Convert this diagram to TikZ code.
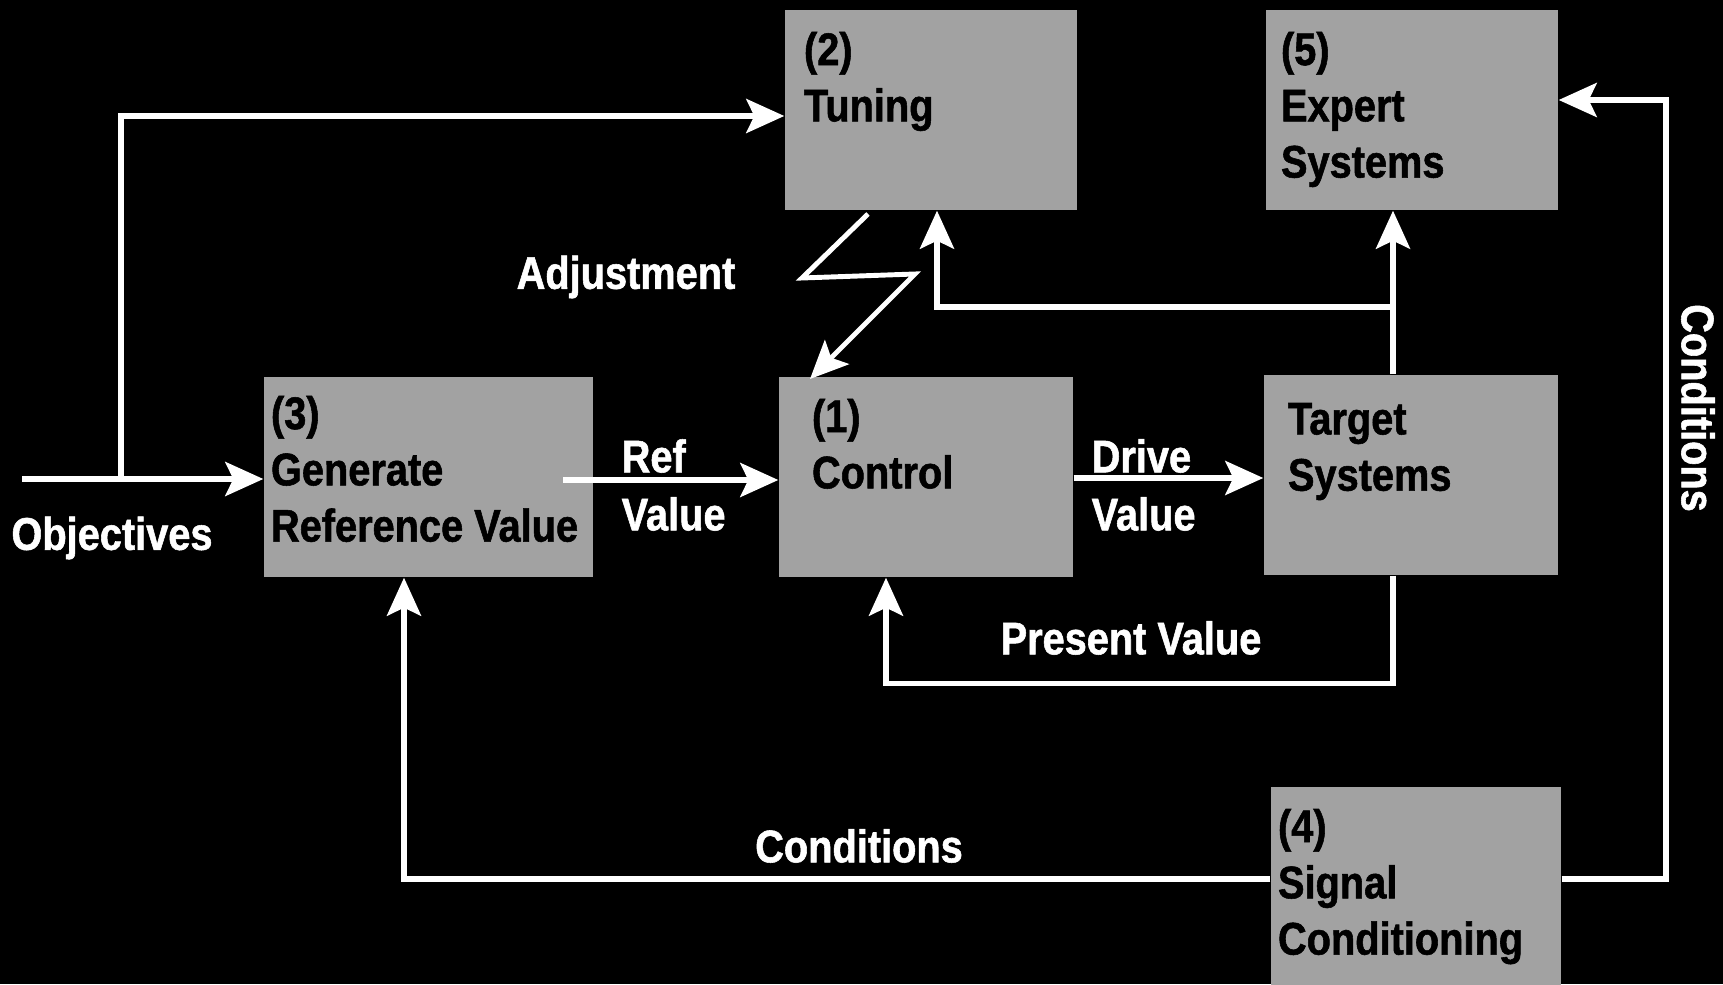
\documentclass[tikz,border=0pt]{standalone}
\usepackage{fontspec}
\newfontfamily\condfont{Liberation Sans}[FakeStretch=0.87, BoldFeatures={FakeBold=1.2}]
\usetikzlibrary{positioning, arrows.meta, calc}
\definecolor{blockgray}{RGB}{162,162,162}

\begin{document}
\begin{tikzpicture}[font=\condfont\bfseries\fontsize{13}{16}\selectfont,
  blk/.style={fill=blockgray, minimum width=2.92cm, minimum height=2cm, inner sep=0pt},
  txt/.style={anchor=north west, align=left, inner sep=0pt, xshift=0.07cm, yshift=-0.22cm, text=black},
  lbl/.style={text=white, inner sep=0pt},
  ar/.style={-{Stealth[length=0.38cm, width=0.34cm, inset=0.08cm]}, white, line width=1.6pt}]

% black page
\fill[black] (0,0) rectangle (17.23,9.84);
\useasboundingbox (0,0) rectangle (17.23,9.84);

% blocks
\node[blk, label={[txt, xshift=0.12cm]north west:(2)\\Tuning}] at (9.31,8.74) (tune) {};
\node[blk, label={[txt, xshift=0.08cm]north west:(5)\\Expert\\Systems}] at (14.12,8.74) (expert) {};
\node[blk, minimum width=3.29cm, label={[txt, yshift=0.03cm]north west:(3)\\Generate\\Reference Value}] at (4.285,5.07) (gen) {};
\node[blk, minimum width=2.94cm, label={[txt, xshift=0.26cm]north west:(1)\\Control}] at (9.26,5.07) (ctrl) {};
\node[blk, minimum width=2.94cm, label={[txt, xshift=0.17cm, yshift=-0.06cm]north west:Target\\Systems}] at (14.11,5.09) (target) {};
\node[blk, minimum width=2.90cm, label={[txt]north west:(4)\\Signal\\Conditioning}] at (14.16,0.97) (sig) {};

% objectives in
\coordinate (obj) at (0.22,5.05);
\coordinate (split) at (1.21,5.05);
\draw[ar] (obj) -- (obj -| gen.west);
\draw[ar] (split) |- (tune.west |- 0,8.68);
\node[lbl] at (1.12,4.46) (objtxt) {Objectives};

% ref value
\coordinate (refstart) at (5.63,5.04);
\draw[ar] (refstart) -- (refstart -| ctrl.west);
\node[lbl, anchor=west] at (6.21,5.28) (reftxt) {Ref};
\node[lbl, anchor=west] at (6.21,4.70) (refval) {Value};

% drive value
\draw[ar] (ctrl.east |- 0,5.06) -- (target.west |- 0,5.06);
\node[lbl, anchor=west] at (10.91,5.28) (drvtxt) {Drive};
\node[lbl, anchor=west] at (10.91,4.70) (drvval) {Value};

% target feeds expert and tuning
\coordinate (tap) at (13.93,6.77);
\draw[ar] (tap |- target.north) -- (tap |- expert.south);
\draw[ar] (tap) -| (9.37,0 |- tune.south);

% present value back to control
\draw[ar] (tap |- target.south) |- (8.86,3.005) -- (8.86,0 |- ctrl.south);
\node[lbl] at (11.31,3.46) (pvtxt) {Present Value};

% adjustment zigzag
\coordinate (z1) at (8.68,7.70);
\coordinate (z2) at (8.02,7.06);
\coordinate (z3) at (9.15,7.10);
\draw[ar, line width=1.4pt] (z1) -- (z2) -- (z3) -- (8.10,6.05);
\node[lbl] at (6.26,7.07) (adjtxt) {Adjustment};

% conditions to reference and expert
\draw[ar] (sig.west |- 0,1.05) -| (4.04,0 |- gen.south);
\node[lbl] at (8.59,1.38) (condtxt) {Conditions};
\draw[ar] (sig.east |- 0,1.05) -| (16.66,8.84) -- (expert.east |- 0,8.84);
\node[lbl, rotate=-90] at (16.98,5.76) (condside) {Conditions};
\end{tikzpicture}
\end{document}
